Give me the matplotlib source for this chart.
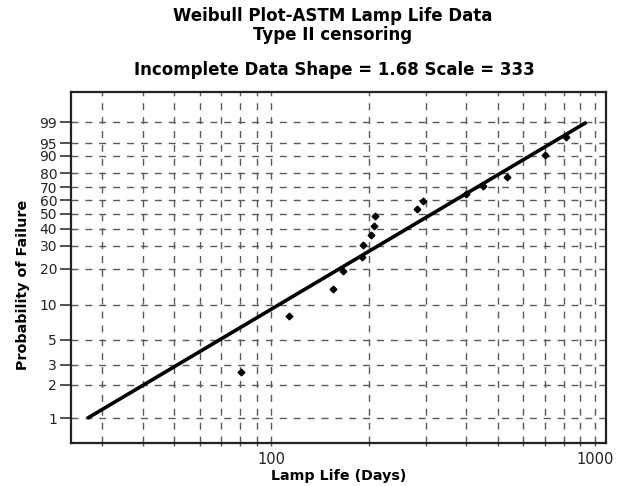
import numpy as np
import matplotlib
matplotlib.use("Agg")
import matplotlib.pyplot as plt
from matplotlib.ticker import FixedLocator, FixedFormatter, NullFormatter, NullLocator

# Lamp life observations (days) and their plotted failure probability (%)
lamp_days = [80.6, 113.6, 155.5, 166.3, 190.7, 191.7, 202.9, 207.7, 209.6,
             281.5, 295.1, 399.9, 452.1, 536.3, 701.8, 812.9]
failure_pct = [2.6, 8.1, 13.5, 19.3, 24.7, 30.7, 36.2, 41.8, 48.5,
               53.6, 59.7, 65.1, 70.9, 77.4, 90.3, 96.7]

# Fitted Weibull line as drawn (end points)
fit_days = [26.9, 942.0]
fit_pct = [1, 99]

prob_ticks = [1, 2, 3, 5, 10, 20, 30, 40, 50, 60, 70, 80, 90, 95, 99]
day_major = [100, 1000]
day_minor = [30, 40, 50, 60, 70, 80, 90, 200, 300, 400, 500, 600, 700, 800, 900]


def weibull_fwd(p):
    p = np.clip(np.asarray(p, dtype=float) / 100.0, 1e-12, 1 - 1e-12)
    return np.log(-np.log(1 - p))


def weibull_inv(t):
    return 100.0 * (1 - np.exp(-np.exp(np.asarray(t, dtype=float))))


fig = plt.figure(figsize=(6.23, 4.86), dpi=100)
ax = fig.add_axes([0.114, 0.0895, 0.858, 0.722])

ax.set_xscale("log")
ax.set_yscale("function", functions=(weibull_fwd, weibull_inv))
ax.set_xlim(24.0, 1079)
ax.set_ylim(weibull_inv(-5.098), weibull_inv(2.162))

ax.plot(fit_days, fit_pct, color="black", linewidth=2.6, solid_capstyle="butt", zorder=3)
ax.plot(lamp_days, failure_pct, linestyle="none", marker="D", markersize=3.4,
        color="black", zorder=4)

# axis ticks
ax.yaxis.set_major_locator(FixedLocator(prob_ticks))
ax.yaxis.set_major_formatter(FixedFormatter([str(v) for v in prob_ticks]))
ax.yaxis.set_minor_locator(NullLocator())
ax.xaxis.set_major_locator(FixedLocator(day_major))
ax.xaxis.set_major_formatter(FixedFormatter([str(v) for v in day_major]))
ax.xaxis.set_minor_locator(FixedLocator(day_minor))
ax.xaxis.set_minor_formatter(NullFormatter())

ax.tick_params(axis="y", direction="out", length=8, width=1.2, color="#333333",
               labelsize=10, labelcolor="#222222", pad=2)
ax.tick_params(axis="x", which="both", direction="out", length=2.5, width=1.0,
               color="#555555", labelsize=10.5, labelcolor="#222222", pad=4)

grid_style = dict(color="#5a5a5a", linewidth=1.0, linestyle=(0, (5, 5)))
ax.grid(True, axis="y", which="major", **grid_style)
ax.grid(True, axis="x", which="both", **grid_style)
ax.set_axisbelow(True)

for spine in ax.spines.values():
    spine.set_linewidth(1.6)
    spine.set_color("#222222")

ax.set_xlabel("Lamp Life (Days)", fontsize=10.3, fontweight="bold", labelpad=2)
ax.set_ylabel("Probability of Failure", fontsize=10.3, fontweight="bold")
ax.yaxis.set_label_coords(-0.077, 0.448)

fig.text(0.534, 0.985, "Weibull Plot-ASTM Lamp Life Data\nType II censoring",
         ha="center", va="top", fontsize=12, fontweight="bold", linespacing=1.05)
fig.text(0.536, 0.856, "Incomplete Data Shape = 1.68 Scale = 333",
         ha="center", va="center", fontsize=12, fontweight="bold")

fig.savefig("out.png", dpi=100)
